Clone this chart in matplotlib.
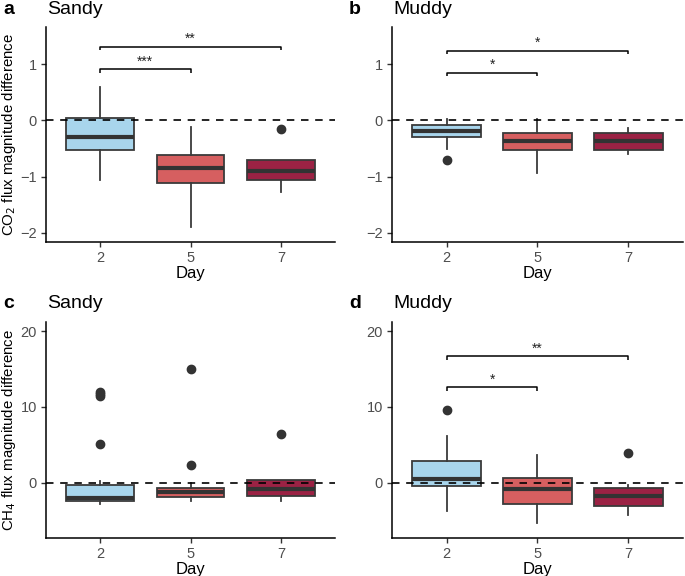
import matplotlib
matplotlib.use("Agg")
import matplotlib.pyplot as plt

plt.rcParams['font.family'] = ['Liberation Sans', 'DejaVu Sans']

days = ["2", "5", "7"]
colors = ["#A8D5EC", "#D65F60", "#9B2244"]

# box stats per panel: (whislo, q1, med, q3, whishi, outliers)
co2_sandy = [(-1.06, -0.53, -0.29, 0.035, 0.60, []),
             (-1.89, -1.12, -0.85, -0.62, -0.11, []),
             (-1.27, -1.06, -0.89, -0.71, -0.71, [-0.16])]
co2_muddy = [(-0.50, -0.30, -0.19, -0.08, 0.03, [-0.70]),
             (-0.93, -0.53, -0.37, -0.22, 0.03, []),
             (-0.60, -0.52, -0.37, -0.23, -0.13, [])]
ch4_sandy = [(-2.87, -2.4, -1.98, -0.27, 0.2, [12.0, 11.7, 11.4, 5.06]),
             (-2.4, -1.9, -1.28, -0.7, -0.1, [14.97, 2.28]),
             (-2.4, -1.81, -0.85, 0.35, 0.35, [6.38])]
ch4_muddy = [(-3.75, -0.45, 0.53, 2.86, 6.1, [9.55]),
             (-5.28, -2.87, -0.88, 0.66, 3.7, []),
             (-4.23, -3.09, -1.72, -0.7, -0.35, [3.87])]

# significance brackets: (x_from, x_to, y_bar, label)
sig_a = [(0, 1, 0.91, "***"), (0, 2, 1.31, "**")]
sig_b = [(0, 1, 0.85, "*"), (0, 2, 1.24, "*")]
sig_d = [(0, 1, 12.6, "*"), (0, 2, 16.7, "**")]

W, H = 685, 576
fig = plt.figure(figsize=(W / 100, H / 100), dpi=100)

def ax_at(l, r, t, b):
    return fig.add_axes([l / W, 1 - b / H, (r - l) / W, (b - t) / H])

panels = [
    dict(rect=(46, 335, 27, 242), data=co2_sandy, sig=sig_a, letter="a", title="Sandy",
         ylim=(-2.16, 1.66), yticks=[-2, -1, 0, 1], tip=0.06, ylabel="CO$_2$ flux magnitude difference"),
    dict(rect=(392, 683, 27, 242), data=co2_muddy, sig=sig_b, letter="b", title="Muddy",
         ylim=(-2.16, 1.66), yticks=[-2, -1, 0, 1], tip=0.06, ylabel=None),
    dict(rect=(46, 335, 322, 538), data=ch4_sandy, sig=[], letter="c", title="Sandy",
         ylim=(-7.3, 21.2), yticks=[0, 10, 20], tip=0.45, ylabel="CH$_4$ flux magnitude difference"),
    dict(rect=(392, 683, 322, 538), data=ch4_muddy, sig=sig_d, letter="d", title="Muddy",
         ylim=(-7.3, 21.2), yticks=[0, 10, 20], tip=0.45, ylabel=None),
]

edge = "#3a3a3a"
for p in panels:
    ax = ax_at(*p["rect"])
    stats = []
    for i, (lo, q1, med, q3, hi, fl) in enumerate(p["data"]):
        stats.append(dict(whislo=lo, q1=q1, med=med, q3=q3, whishi=hi, fliers=fl))
    bp = ax.bxp(stats, positions=[1, 2, 3], widths=0.75, patch_artist=True, showcaps=False,
                boxprops=dict(edgecolor=edge, linewidth=1.3),
                medianprops=dict(color="#333333", linewidth=3.0, solid_capstyle="butt"),
                whiskerprops=dict(color=edge, linewidth=1.3),
                flierprops=dict(marker="o", markerfacecolor="#333333", markeredgecolor="#333333",
                                markersize=6))
    for patch, c in zip(bp["boxes"], colors):
        patch.set_facecolor(c)
    ax.axhline(0, color="black", lw=1.2, ls=(0, (4.5, 4.0)), zorder=5)
    for (x0, x1, y, lab) in p["sig"]:
        t = p["tip"]
        ax.plot([x0 + 1, x0 + 1, x1 + 1, x1 + 1], [y - t, y, y, y - t], color="black", lw=1.1,
                solid_capstyle="butt")
        rng = p["ylim"][1] - p["ylim"][0]
        ax.text((x0 + x1) / 2 + 1, y + rng * 0.035, lab, ha="center", va="center",
                fontsize=10, color="#222222")
    ax.set_xlim(0.4, 3.6)
    ax.set_ylim(*p["ylim"])
    ax.set_xticks([1, 2, 3])
    ax.set_xticklabels(days)
    ax.set_yticks(p["yticks"])
    ax.set_yticklabels([str(v).replace("-", "\u2212") for v in p["yticks"]])
    ax.tick_params(labelsize=10.5, labelcolor="#4d4d4d", color="#333333", length=3.5, width=1.0,
                   pad=3)
    for s in ["top", "right"]:
        ax.spines[s].set_visible(False)
    for s in ["left", "bottom"]:
        ax.spines[s].set_linewidth(1.1)
    ax.set_xlabel("Day", fontsize=12, labelpad=1)
    if p["ylabel"]:
        ax.set_ylabel(p["ylabel"], fontsize=10.8, labelpad=2)
    l, r, t, b = p["rect"]
    fig.text((l - 43) / W, 1 - (t - 18) / H, p["letter"], fontsize=14, fontweight="bold",
             ha="left", va="center")
    fig.text((l + 1) / W, 1 - (t - 18) / H, p["title"], fontsize=14, ha="left", va="center")

fig.savefig("out.png", dpi=100)
